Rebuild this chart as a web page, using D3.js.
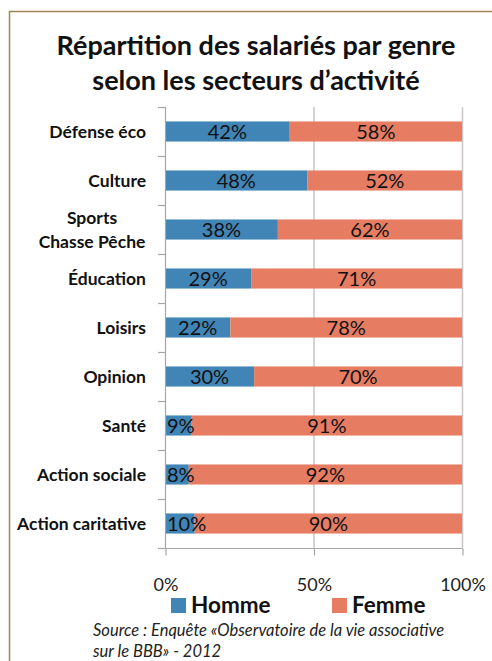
<!DOCTYPE html>
<html>
<head>
  <meta charset="utf-8">
  <title>Répartition des salariés par genre</title>
  <script src="https://cdn.jsdelivr.net/npm/d3@7"></script>
  <style>
    body { margin: 0; background: #fff; }
    svg text { font-family: Lato, "Open Sans", sans-serif; }
  </style>
</head>
<body>
  <script>
    const categories = ["Défense éco", "Culture", "Sports\nChasse Pêche", "Éducation", "Loisirs",
      "Opinion", "Santé", "Action sociale", "Action caritative"]
    const homme = [42, 48, 38, 29, 22, 30, 9, 8, 10]
    const femme = [58, 52, 62, 71, 78, 70, 91, 92, 90]
    const seriesNames = ["Homme", "Femme"]
    const xTicks = [0, 50, 100]
    const colors = ["#4184b6", "#e67c62"]

    const width = 492, height = 661
    const plot = { left: 165, right: 462, top: 107, bottom: 548 }

    const svg = d3.select("body").append("svg")
      .attr("width", width)
      .attr("height", height)

    // bordure du cadre
    svg.append("path")
      .attr("d", "M9.5,661 L9.5,11.5 L492,11.5")
      .attr("fill", "none")
      .attr("stroke", "#a08656")
      .attr("stroke-width", 1.5)

    // titre
    const titleLines = ["Répartition des salariés par genre", "selon les secteurs d’activité"]
    svg.selectAll(".title")
      .data(titleLines)
      .enter().append("text")
      .attr("class", "title")
      .attr("x", 256).attr("y", (d, i) => 55 + i * 35)
      .attr("text-anchor", "middle")
      .attr("font-size", 27).attr("font-weight", "bold")
      .attr("fill", "#111")
      .text(d => d)

    const xScale = d3.scaleLinear().domain([0, 100]).range([plot.left, plot.right])
    const yScale = d3.scaleBand()
      .domain(categories)
      .range([plot.top, plot.bottom])
      .paddingInner(0.59).paddingOuter(0.295)

    // grille verticale
    svg.selectAll(".grid")
      .data(xTicks.filter(d => d > 0))
      .enter().append("line")
      .attr("class", "grid")
      .attr("x1", d => xScale(d) + 0.5).attr("x2", d => xScale(d) + 0.5)
      .attr("y1", plot.top).attr("y2", plot.bottom)
      .attr("stroke", "#cbc5c5").attr("stroke-width", 1.5)

    const stacked = categories.map((c, i) => [
      { cat: c, s: 0, x0: 0, x1: homme[i], v: homme[i] },
      { cat: c, s: 1, x0: homme[i], x1: homme[i] + femme[i], v: femme[i] }
    ]).flat()

    svg.selectAll("rect.bar")
      .data(stacked)
      .enter().append("rect")
      .attr("class", "bar")
      .attr("x", d => xScale(d.x0))
      .attr("y", d => yScale(d.cat))
      .attr("width", d => xScale(d.x1) - xScale(d.x0))
      .attr("height", yScale.bandwidth())
      .attr("fill", d => colors[d.s])

    svg.selectAll("text.val")
      .data(stacked)
      .enter().append("text")
      .attr("class", "val")
      .attr("y", d => yScale(d.cat) + yScale.bandwidth() / 2)
      .attr("dy", "0.36em")
      .attr("text-anchor", "middle")
      .attr("font-size", 20)
      .attr("fill", "#111")
      .text(d => d.v + "%")
      .attr("x", function (d) {
        // comme Excel : l'étiquette ne dépasse pas le début de la barre
        const half = this.getComputedTextLength() / 2
        return Math.max(xScale((d.x0 + d.x1) / 2), xScale(d.x0) + half + 2)
      })

    // axe vertical
    svg.append("line")
      .attr("x1", plot.left + 0.5).attr("x2", plot.left + 0.5)
      .attr("y1", plot.top).attr("y2", plot.bottom)
      .attr("stroke", "#a6a6a6").attr("stroke-width", 1.2)
    const rowEdges = d3.range(categories.length + 1).map(i => plot.top + i * yScale.step())
    svg.selectAll(".ytick")
      .data(rowEdges)
      .enter().append("line")
      .attr("class", "ytick")
      .attr("x1", plot.left - 7).attr("x2", plot.left)
      .attr("y1", d => d + 0.5).attr("y2", d => d + 0.5)
      .attr("stroke", "#a6a6a6").attr("stroke-width", 1.2)

    // étiquettes des catégories
    const catLabels = svg.selectAll("text.cat")
      .data(categories)
      .enter().append("text")
      .attr("class", "cat")
      .attr("font-size", 17.5).attr("font-weight", "bold")
      .attr("fill", "#111")
    catLabels.each(function (d) {
      const lines = d.split("\n")
      const cy = yScale(d) + yScale.bandwidth() / 2
      const t = d3.select(this)
      if (lines.length === 1) {
        t.attr("x", 146).attr("y", cy).attr("dy", "0.36em")
          .attr("text-anchor", "end").text(d)
      } else {
        t.attr("text-anchor", "middle")
        lines.forEach((l, k) => {
          t.append("tspan")
            .attr("x", 92)
            .attr("y", cy + (k - (lines.length - 1) / 2) * 24)
            .attr("dy", "0.36em")
            .text(l)
        })
      }
    })

    // axe horizontal
    const xAxis = d3.axisBottom(xScale)
      .tickValues(xTicks)
      .tickSize(7)
      .tickFormat(d => d + "%")
    const gx = svg.append("g")
      .attr("transform", `translate(0.5,${plot.bottom + 0.5})`)
      .call(xAxis)
    gx.select(".domain").attr("stroke", "#a6a6a6").attr("stroke-width", 1.2)
      .attr("d", `M${plot.left - 7},0H${plot.right}`)
    gx.selectAll(".tick line").attr("stroke", "#a6a6a6").attr("stroke-width", 1.2)
    gx.selectAll(".tick text")
      .attr("font-size", 18).attr("fill", "#222")
      .attr("font-family", "Lato, sans-serif")
      .attr("y", 30)

    // légende
    const legendX = [171, 332]
    const legend = svg.selectAll(".leg")
      .data(seriesNames)
      .enter().append("g")
      .attr("class", "leg")
      .attr("transform", (d, i) => `translate(${legendX[i]},598)`)
    legend.append("rect")
      .attr("width", 15).attr("height", 15)
      .attr("fill", (d, i) => colors[i])
    legend.append("text")
      .attr("x", 20).attr("y", 15)
      .attr("font-size", 22.5).attr("font-weight", "bold")
      .attr("fill", "#111")
      .text(d => d)

    // source
    const source = ["Source : Enquête «Observatoire de la vie associative", "sur le BBB» - 2012"]
    svg.selectAll(".src")
      .data(source)
      .enter().append("text")
      .attr("class", "src")
      .attr("x", 93)
      .attr("y", (d, i) => 636 + i * 21)
      .attr("font-size", 16.5).attr("font-style", "italic")
      .attr("fill", "#222")
      .text(d => d)
  </script>
</body>
</html>
